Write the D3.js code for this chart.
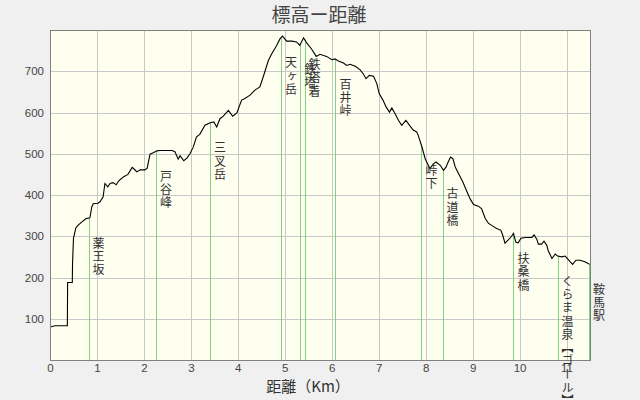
<!DOCTYPE html>
<html><head><meta charset="utf-8">
<script src="https://cdn.jsdelivr.net/npm/d3@7"></script>
<style>
html,body{margin:0;padding:0;background:#f0f0f0;}
svg{display:block;}
</style></head>
<body>
<svg id="chart" width="640" height="400"></svg>
<script>
const titleText = "標高ー距離";
const xAxisTitle = "距離（Km）";
const xTicks = [0,1,2,3,4,5,6,7,8,9,10,11];
const yTicks = [100,200,300,400,500,600,700];

// profile: distance (km) and elevation (m)
const distKm = [0.00,0.11,0.37,0.375,0.475,0.48,0.50,0.55,0.60,0.68,0.77,0.82,0.85,0.89,0.92,1.02,1.06,1.13,1.17,1.23,1.28,1.34,1.41,1.45,1.49,1.58,1.66,1.75,1.79,1.85,1.92,2.02,2.07,2.13,2.21,2.28,2.34,2.60,2.66,2.73,2.77,2.85,2.92,2.98,3.05,3.12,3.19,3.30,3.41,3.49,3.55,3.62,3.69,3.80,3.89,3.98,4.08,4.15,4.26,4.37,4.47,4.54,4.65,4.72,4.83,4.90,4.95,5.04,5.15,5.25,5.32,5.40,5.47,5.57,5.67,5.75,5.89,6.00,6.07,6.14,6.25,6.32,6.39,6.50,6.60,6.67,6.73,6.80,6.89,6.96,7.01,7.09,7.16,7.23,7.28,7.35,7.42,7.49,7.58,7.67,7.74,7.81,7.84,7.92,7.99,8.04,8.09,8.16,8.22,8.31,8.38,8.43,8.48,8.53,8.58,8.63,8.70,8.79,8.88,8.95,9.02,9.12,9.19,9.27,9.34,9.44,9.51,9.60,9.64,9.69,9.76,9.83,9.87,9.92,9.97,10.03,10.12,10.26,10.31,10.37,10.40,10.47,10.52,10.58,10.61,10.69,10.76,10.81,10.90,10.97,11.02,11.08,11.13,11.20,11.29,11.39,11.49];
const elevM = [80,83,83,188,188,235,295,320,327,335,343,344,345,371,379,380,383,395,428,420,428,430,425,432,437,445,450,467,463,456,461,461,465,499,503,507,508,508,505,487,495,483,490,500,516,541,547,569,575,577,565,585,591,605,591,599,630,634,642,655,662,686,726,742,763,779,785,773,773,771,763,781,768,754,736,741,736,728,730,725,720,714,717,712,704,694,682,690,688,670,646,630,613,601,611,597,581,569,581,567,557,553,545,517,488,476,464,475,480,472,460,467,480,492,488,468,452,432,408,390,377,373,367,343,331,324,319,315,303,283,291,300,307,286,284,295,297,297,303,292,281,281,288,278,265,246,257,252,250,252,246,238,232,242,242,238,232];

// landmarks
const placeNames = ["薬王坂","戸谷峰","三叉岳","天ヶ岳","鉄塔","鉄塔着","百井峠","峠下","古道橋","扶桑橋","くらま温泉【ゴール】","鞍馬駅"];
const placeKm = [0.82,2.26,3.41,4.92,5.33,5.42,6.08,7.91,8.36,9.87,10.81,11.48];

const svg = d3.select("#chart");
const L=50, R=590, T=30, B=360;
const x = d3.scaleLinear().domain([0,11.5]).range([L,R]);
const y = d3.scaleLinear().domain([0,800]).range([B,T]);
const px = v => Math.round(v)+0.5;

svg.append("rect").attr("width",640).attr("height",400).attr("fill","#f0f0f0");
svg.append("rect").attr("x",L).attr("y",T).attr("width",R-L).attr("height",B-T).attr("fill","#fffff0");

// grid
const g = svg.append("g");
g.selectAll("line.vx").data(xTicks.filter(d=>d>0)).join("line")
  .attr("x1",d=>px(x(d))).attr("x2",d=>px(x(d))).attr("y1",T).attr("y2",B)
  .attr("stroke","#c8c8c8").attr("stroke-width",1);
g.selectAll("line.hy").data(yTicks).join("line")
  .attr("y1",d=>px(y(d))).attr("y2",d=>px(y(d))).attr("x1",L).attr("x2",R)
  .attr("stroke","#c8c8c8").attr("stroke-width",1);

// elevation interpolation for landmarks
const profile = distKm.map((d,i)=>({d, e:elevM[i]}));
function elevAt(k){
  const i = d3.bisector(p=>p.d).left(profile,k);
  if(i<=0) return profile[0].e;
  if(i>=profile.length) return profile[profile.length-1].e;
  const a=profile[i-1], b=profile[i];
  return a.e + (b.e-a.e)*(k-a.d)/(b.d-a.d);
}
const places = placeNames.map((n,i)=>({n, k:placeKm[i], e:elevAt(placeKm[i])}));

// green lines
svg.append("g").selectAll("line").data(places).join("line")
  .attr("x1",d=>px(x(d.k))).attr("x2",d=>px(x(d.k)))
  .attr("y1",d=>y(d.e)).attr("y2",B)
  .attr("stroke","#84d084").attr("stroke-width",1);

// profile
svg.append("path").datum(profile)
  .attr("d", d3.line().x(p=>x(p.d)).y(p=>y(p.e)))
  .attr("fill","none").attr("stroke","#000").attr("stroke-width",1.1);

// border
svg.append("rect").attr("x",L+0.5).attr("y",T+0.5).attr("width",R-L).attr("height",B-T)
  .attr("fill","none").attr("stroke","#808080").attr("stroke-width",1);

// vertical labels
svg.append("g").selectAll("text").data(places).join("text")
  .attr("x",d=>x(d.k)+10).attr("y",d=>y(d.e)+19)
  .attr("style","writing-mode: vertical-rl; text-orientation: upright;")
  .attr("font-family","'Noto Sans CJK JP'").attr("font-size",12).attr("letter-spacing",1.3)
  .attr("fill","#333").text(d=>d.n);

// axes
const xAxis = d3.axisBottom(x).tickValues(xTicks).tickSize(0).tickPadding(0).tickFormat(d3.format("d"));
const xg = svg.append("g").attr("transform",`translate(0,${B+4})`).call(xAxis);
xg.select(".domain").remove();
xg.selectAll("text").attr("font-family","'Liberation Sans'").attr("font-size",11.5).attr("fill","#444").attr("dy","0.71em");

const yAxis = d3.axisLeft(y).tickValues(yTicks).tickSize(0).tickPadding(6).tickFormat(d3.format("d"));
const yg = svg.append("g").attr("transform",`translate(${L},0)`).call(yAxis);
yg.select(".domain").remove();
yg.selectAll("text").attr("font-family","'Liberation Sans'").attr("font-size",11.5).attr("fill","#444");

// titles
svg.append("text").attr("x",319).attr("y",22).attr("text-anchor","middle")
  .attr("font-family","'Noto Sans CJK JP'").attr("font-size",19).attr("fill","#444").text(titleText);
svg.append("text").attr("x",308).attr("y",392).attr("text-anchor","middle")
  .attr("font-family","'Noto Sans CJK JP'").attr("font-size",15).attr("fill","#333").text(xAxisTitle);
</script>
</body></html>
